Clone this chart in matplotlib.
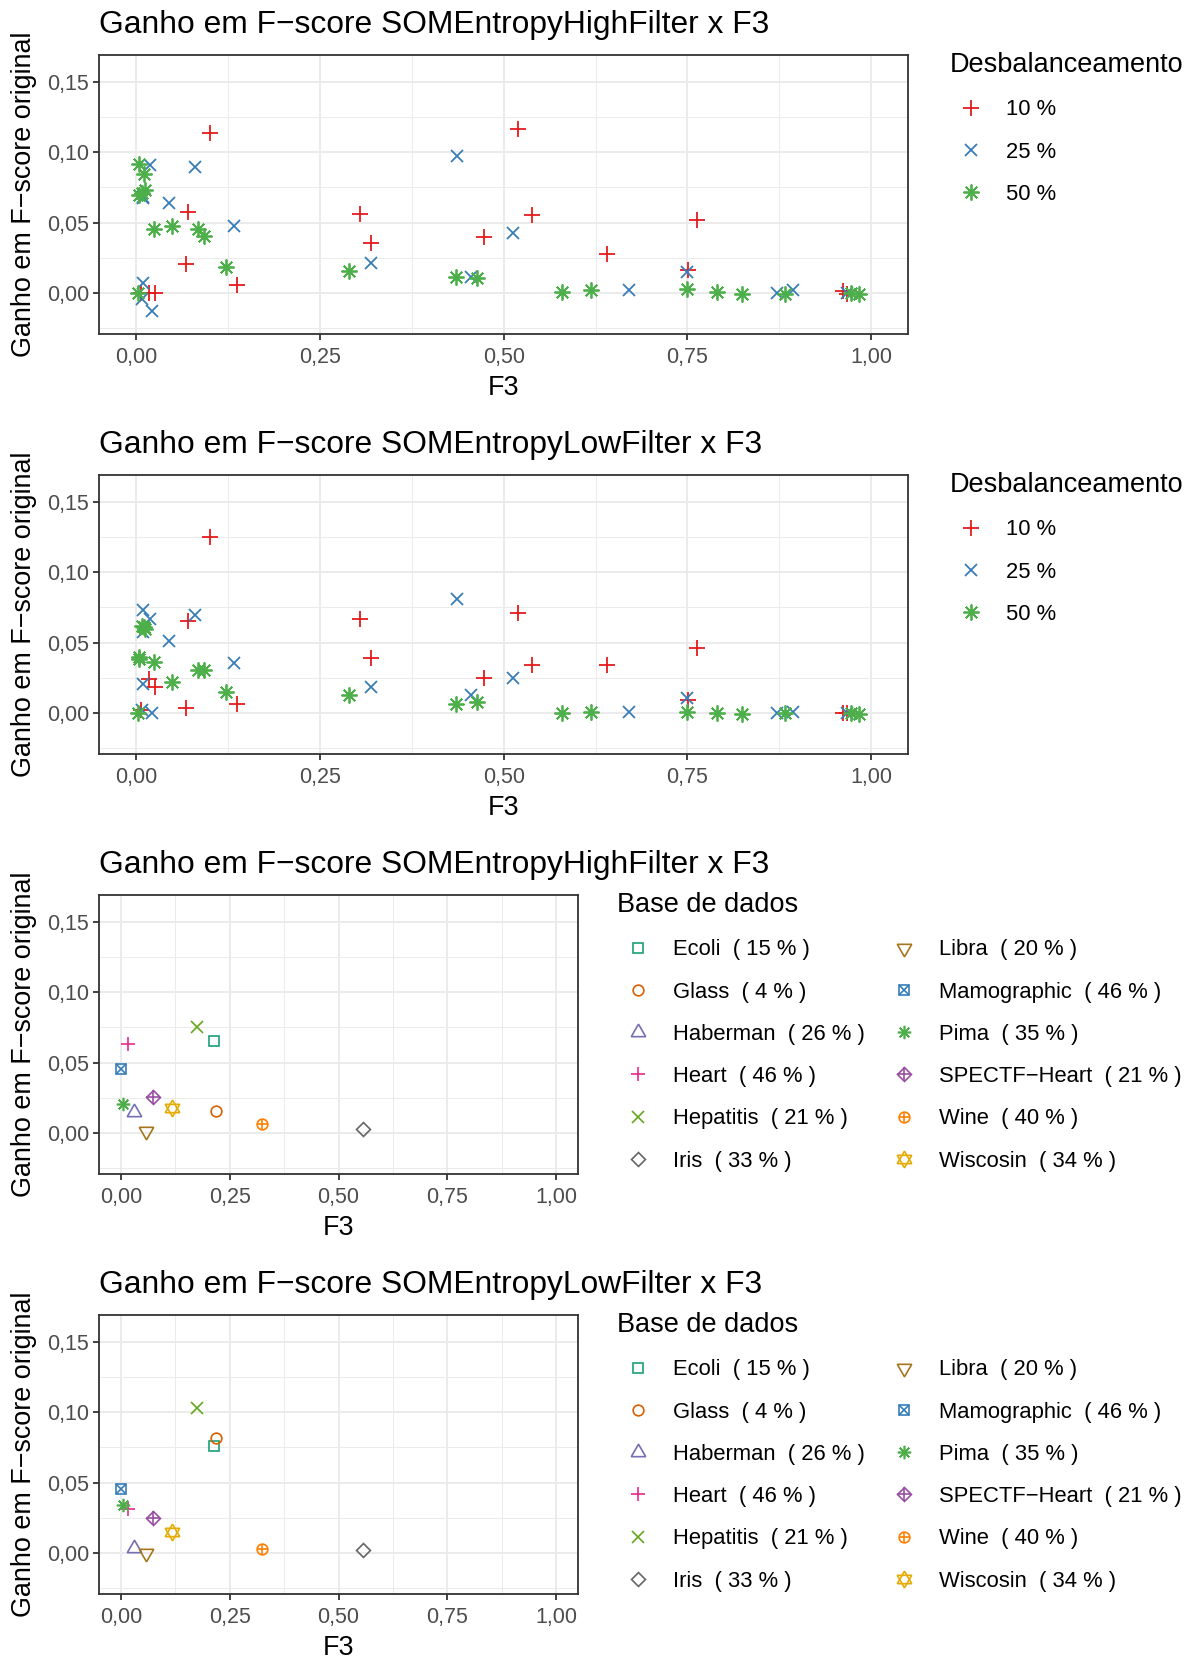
import matplotlib.pyplot as plt
from matplotlib.lines import Line2D
from matplotlib.ticker import FuncFormatter, MultipleLocator

plt.rcParams['font.family'] = ['Liberation Sans', 'DejaVu Sans']

## Ganho por nivel de desbalanceamento (F3 igual para os dois filtros)
niveis = ['10 %', '25 %', '50 %']
cores_niveis = ['#E41A1C', '#377EB8', '#4DAF4A']

f3_10 = [0.101, 0.071, 0.0675, 0.137, 0.305, 0.319, 0.473, 0.520, 0.539, 0.640,
         0.751, 0.763, 0.962, 0.967, 0.007, 0.017, 0.026]
high_10 = [0.1137, 0.0575, 0.0205, 0.0059, 0.0559, 0.0354, 0.0396, 0.1167, 0.0554, 0.0278,
           0.0165, 0.0517, 0.0012, -0.0005, 0.0002, 0.0, 0.0]
low_10 = [0.1252, 0.0653, 0.0035, 0.0066, 0.0670, 0.0389, 0.0248, 0.0712, 0.0342, 0.0342,
          0.0094, 0.0460, 0.0, 0.0, 0.0019, 0.0243, 0.0189]

f3_25 = [0.019, 0.080, 0.010, 0.009, 0.045, 0.133, 0.010, 0.008, 0.022, 0.320,
         0.436, 0.456, 0.513, 0.670, 0.749, 0.872, 0.894, 0.967]
high_25 = [0.0906, 0.0892, 0.0672, 0.0680, 0.0637, 0.0479, 0.0071, -0.0042, -0.0125, 0.0217,
           0.0972, 0.0113, 0.0425, 0.0019, 0.0149, 0.0, 0.0019, 0.0]
low_25 = [0.0667, 0.0700, 0.0573, 0.0731, 0.0509, 0.0354, 0.0205, 0.0019, 0.0, 0.0189,
          0.0807, 0.0130, 0.0248, 0.0007, 0.0106, 0.0, 0.0007, 0.0]

f3_50 = [0.0045, 0.0104, 0.0127, 0.0036, 0.008, 0.025, 0.0485, 0.084, 0.092, 0.123, 0.003,
         0.290, 0.435, 0.464, 0.580, 0.619, 0.749, 0.790, 0.824, 0.883, 0.973, 0.983]
high_50 = [0.0913, 0.0844, 0.0731, 0.0700, 0.0712, 0.0453, 0.0479, 0.0453, 0.0406, 0.0184, 0.0,
           0.0160, 0.0113, 0.0106, 0.0007, 0.0019, 0.0028, 0.0007, -0.0005, -0.0005, 0.0, -0.0005]
low_50 = [0.0396, 0.0613, 0.0600, 0.0384, 0.0620, 0.0366, 0.0219, 0.0307, 0.0307, 0.0153, 0.0,
          0.0130, 0.0066, 0.0078, 0.0, 0.0007, 0.0007, 0.0, -0.0005, 0.0, 0.0, -0.0005]

## Ganho por base de dados
bases = ['Ecoli', 'Glass', 'Haberman', 'Heart', 'Hepatitis', 'Iris',
         'Libra', 'Mamographic', 'Pima', 'SPECTF−Heart', 'Wine', 'Wiscosin']
desbal = [15, 4, 26, 46, 21, 33, 20, 46, 35, 21, 40, 34]
f3_bases = [0.213, 0.218, 0.029, 0.015, 0.174, 0.557, 0.058, 0.001, 0.004, 0.074, 0.324, 0.118]
high_bases = [0.0656, 0.0158, 0.0151, 0.0632, 0.0755, 0.0028, 0.0015, 0.0458, 0.0205, 0.0260, 0.0066, 0.0177]
low_bases = [0.0760, 0.0818, 0.0035, 0.0310, 0.1030, 0.0019, 0.0, 0.0455, 0.0342, 0.0248, 0.0030, 0.0153]

cores_bases = ['#1B9E77', '#D95F02', '#7570B3', '#E7298A', '#66A61E', '#666666',
               '#A6761D', '#377EB8', '#4DAF4A', '#984EA3', '#FF7F00', '#E6AB02']
ast = (8, 2, 0)
formas_bases = [[('s', 7.2)], [('o', 7.7)], [((3, 0, 0), 12)], [('+', 10.5)], [('x', 8)],
                [((4, 0, 0), 10)], [((3, 0, 180), 12)], [('s', 7.5), ('x', 7.5)], [(ast, 9.6)],
                [((4, 0, 0), 10), ('+', 10)], [('o', 7.7), ('+', 7.7)],
                [((3, 0, 0), 12), ((3, 0, 180), 12)]]

W, H = 1194, 1659
fig = plt.figure(figsize=(W / 100, H / 100), dpi=100)

virgula = FuncFormatter(lambda v, p: '{:.2f}'.format(v).replace('.', ','))


def estilo(ax, titulo):
    ax.set_xlim(-0.05, 1.05)
    ax.set_ylim(-0.029, 0.169)
    ax.xaxis.set_major_locator(MultipleLocator(0.25))
    ax.xaxis.set_minor_locator(MultipleLocator(0.125))
    ax.yaxis.set_major_locator(MultipleLocator(0.05))
    ax.yaxis.set_minor_locator(MultipleLocator(0.025))
    ax.xaxis.set_major_formatter(virgula)
    ax.yaxis.set_major_formatter(virgula)
    ax.set_axisbelow(True)
    ax.grid(which='major', color='#EBEBEB', lw=1.4)
    ax.grid(which='minor', color='#EBEBEB', lw=0.7)
    for s in ax.spines.values():
        s.set_color('#333333')
        s.set_linewidth(1.3)
    ax.tick_params(which='major', length=4.5, width=1.3, color='#333333',
                   labelsize=15.5, labelcolor='#4D4D4D')
    ax.tick_params(axis='x', pad=5)
    ax.tick_params(axis='y', pad=3)
    ax.tick_params(which='minor', length=0)
    ax.set_xlabel('F3', fontsize=19.4, labelpad=5)
    ax.set_ylabel('Ganho em F−score original', fontsize=19.4, labelpad=7)
    ax.set_title(titulo, loc='left', fontsize=22.9, pad=15.8)


def legenda(ax, handles, labels, titulo, x, y, ncol=1):
    leg = ax.legend(handles, labels, title=titulo, loc='upper left',
                    bbox_to_anchor=(x / W, 1 - y / H), bbox_transform=fig.transFigure,
                    frameon=False, fontsize=15.8, title_fontsize=19.5, ncol=ncol,
                    borderpad=0, borderaxespad=0, handlelength=1.93, handletextpad=0.6,
                    labelspacing=0.97, columnspacing=0.86, alignment='left')
    return leg


paineis_niveis = [
    ('Ganho em F−score SOMEntropyHighFilter x F3', [high_10, high_25, high_50], 55),
    ('Ganho em F−score SOMEntropyLowFilter x F3', [low_10, low_25, low_50], 475),
]
formas_niveis = [('+', 11), ('x', 8), (ast, 11.5)]
f3_niveis = [f3_10, f3_25, f3_50]

for titulo, ganhos, topo in paineis_niveis:
    ax = fig.add_axes([99.3 / W, 1 - (topo + 279) / H, 808.7 / W, 279 / H])
    estilo(ax, titulo)
    hs = []
    for f3, g, cor, (m, ms) in zip(f3_niveis, ganhos, cores_niveis, formas_niveis):
        ax.plot(f3, g, ls='none', marker=m, ms=ms, mew=1.3, color=cor)
        hs.append(Line2D([], [], ls='none', marker=m, ms=ms, mew=1.3, color=cor))
    legenda(ax, hs, niveis, 'Desbalanceamento', 950, topo - 3)

paineis_bases = [
    ('Ganho em F−score SOMEntropyHighFilter x F3', high_bases, 895),
    ('Ganho em F−score SOMEntropyLowFilter x F3', low_bases, 1315),
]
rotulos = ['{}  ( {} % )'.format(b, d) for b, d in zip(bases, desbal)]

for titulo, ganhos, topo in paineis_bases:
    ax = fig.add_axes([99.3 / W, 1 - (topo + 279) / H, 478.4 / W, 279 / H])
    estilo(ax, titulo)
    hs = []
    for i in range(len(bases)):
        partes = []
        for m, ms in formas_bases[i]:
            ax.plot([f3_bases[i]], [ganhos[i]], ls='none', marker=m, ms=ms, mew=1.2,
                    mec=cores_bases[i], mfc='none')
            partes.append(Line2D([], [], ls='none', marker=m, ms=ms, mew=1.2,
                                 mec=cores_bases[i], mfc='none'))
        hs.append(tuple(partes))
    legenda(ax, hs, rotulos, 'Base de dados', 617, topo - 3, ncol=2)

fig.savefig('out.png', dpi=100)
